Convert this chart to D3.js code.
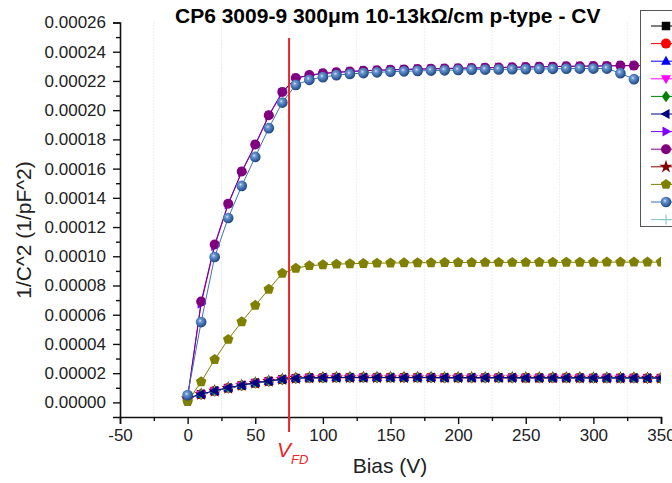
<!DOCTYPE html>
<html lang="en">
<head>
<meta charset="utf-8">
<title>CP6 CV</title>
<script src="https://cdn.jsdelivr.net/npm/d3@7"></script>
<style>
  body { margin: 0; background: #fff; }
  svg { display: block; font-family: "Liberation Sans", Arial, sans-serif; }
  .tick text { fill: #222; font-size: 17px; }
  .axis path, .axis line { stroke: #111; }
</style>
</head>
<body>
<div id="chart"></div>
<script>

// bias steps (V)
var bias = d3.range(0, 351, 10);

// series (1/pF^2)
var lowNavy = [0.0000030, 0.0000057, 0.0000080, 0.0000100, 0.0000118, 0.0000134, 0.0000146, 0.0000158, 0.0000166, 0.0000169,
  0.0000170, 0.0000171, 0.0000171, 0.0000171, 0.0000171, 0.0000171, 0.0000171, 0.0000171, 0.0000171, 0.0000170,
  0.0000170, 0.0000170, 0.0000170, 0.0000170, 0.0000170, 0.0000169, 0.0000169, 0.0000169, 0.0000169, 0.0000169,
  0.0000168, 0.0000168, 0.0000168, 0.0000168, 0.0000167, 0.0000167];
var lowOther = [0.0000025, 0.0000055, 0.0000078, 0.0000098, 0.0000116, 0.0000132, 0.0000145, 0.0000157, 0.0000165, 0.0000168,
  0.0000169, 0.0000170, 0.0000170, 0.0000170, 0.0000170, 0.0000170, 0.0000170, 0.0000170, 0.0000170, 0.0000169,
  0.0000169, 0.0000169, 0.0000169, 0.0000169, 0.0000169, 0.0000168, 0.0000168, 0.0000168, 0.0000168, 0.0000168,
  0.0000167, 0.0000167, 0.0000167, 0.0000167, 0.0000166, 0.0000166];
var violetVals = [0.0000035, 0.0000675, 0.0001070, 0.0001355, 0.0001575, 0.0001760, 0.0001960, 0.0002120, 0.0002218, 0.0002238,
  0.0002250, 0.0002258, 0.0002264, 0.0002269, 0.0002273, 0.0002276, 0.0002279, 0.0002281, 0.0002283, 0.0002285,
  0.0002287, 0.0002289, 0.0002290, 0.0002292, 0.0002294, 0.0002295, 0.0002297, 0.0002298, 0.0002300, 0.0002301,
  0.0002302, 0.0002303, 0.0002304, 0.0002305, 0.0002305, 0.0002306];
var purpleVals = [0.0000035, 0.0000690, 0.0001080, 0.0001360, 0.0001580, 0.0001765, 0.0001965, 0.0002125, 0.0002220, 0.0002240,
  0.0002252, 0.0002260, 0.0002265, 0.0002270, 0.0002273, 0.0002276, 0.0002279, 0.0002281, 0.0002283, 0.0002285,
  0.0002287, 0.0002289, 0.0002290, 0.0002292, 0.0002294, 0.0002295, 0.0002297, 0.0002298, 0.0002300, 0.0002301,
  0.0002302, 0.0002303, 0.0002305, 0.0002305, 0.0002306, 0.0002306];
var oliveVals = [0.0000005, 0.0000141, 0.0000294, 0.0000431, 0.0000552, 0.0000664, 0.0000774, 0.0000884, 0.0000918, 0.0000936,
  0.0000942, 0.0000946, 0.0000949, 0.0000951, 0.0000953, 0.0000954, 0.0000955, 0.0000956, 0.0000956, 0.0000957,
  0.0000957, 0.0000957, 0.0000958, 0.0000958, 0.0000958, 0.0000958, 0.0000959, 0.0000959, 0.0000959, 0.0000959,
  0.0000959, 0.0000960, 0.0000960, 0.0000960, 0.0000960, 0.0000960];
var sphereVals = [0.0000050, 0.0000550, 0.0000995, 0.0001262, 0.0001482, 0.0001680, 0.0001877, 0.0002052, 0.0002173, 0.0002208,
  0.0002226, 0.0002240, 0.0002248, 0.0002254, 0.0002259, 0.0002263, 0.0002266, 0.0002269, 0.0002271, 0.0002273,
  0.0002275, 0.0002277, 0.0002278, 0.0002279, 0.0002280, 0.0002281, 0.0002282, 0.0002283, 0.0002284, 0.0002285,
  0.0002285, 0.0002285, 0.0002253, 0.0002212, 0.0002250, 0.0002240];

var seriesColors = ["#000000", "#ff0000", "#0000ff", "#ff00ff", "#008000", "#000080", "#8000ff", "#800080", "#800000", "#808000", "#3f72b5", "#7fc4c4"];
var seriesMarkers = ["square", "circle", "up", "down", "diamond", "left", "right", "circle", "star", "pentagon", "sphere", "plus"];
var seriesValues = [lowOther, lowOther, lowOther, lowOther, lowOther, lowNavy, violetVals, purpleVals, lowOther, oliveVals, sphereVals, lowOther];
// overlapping series: the ones hidden in the picture are drawn first
var drawOrder = [0, 1, 8, 2, 3, 4, 11, 5, 6, 7, 9, 10];

var xTicks = d3.range(-50, 351, 50);
var yTicks = d3.range(0, 0.000261, 0.00002);

var W = 672, H = 483;
var pLeft = 120, pRight = 661, pTop = 22.5, pBottom = 417;

var x = d3.scaleLinear().domain([-50, 350]).range([pLeft, pRight]);
var y = d3.scaleLinear().domain([-0.00001, 0.00026]).range([pBottom, pTop]);

var svg = d3.select("#chart").append("svg")
  .attr("width", W)
  .attr("height", H);

var defs = svg.append("defs");
var grad = defs.append("radialGradient").attr("id", "ball")
  .attr("cx", "40%").attr("cy", "38%").attr("r", "60%");
grad.append("stop").attr("offset", "0%").attr("stop-color", "#d6e6f8");
grad.append("stop").attr("offset", "25%").attr("stop-color", "#6f9ad0");
grad.append("stop").attr("offset", "70%").attr("stop-color", "#3a6aaa");
grad.append("stop").attr("offset", "100%").attr("stop-color", "#24497f");

defs.append("clipPath").attr("id", "plotclip")
  .append("rect")
  .attr("x", pLeft).attr("y", pTop - 8)
  .attr("width", pRight - pLeft).attr("height", pBottom - pTop + 8);

// marker shapes
function polygon(pts) {
  return "M" + pts.map(function(p) { return p[0].toFixed(2) + "," + p[1].toFixed(2); }).join("L") + "Z";
}
function markerPath(type, r) {
  if (type == "square") { var s = r * 0.85; return polygon([[-s, -s], [s, -s], [s, s], [-s, s]]); }
  if (type == "circle") return d3.symbol(d3.symbolCircle, Math.PI * r * r)();
  if (type == "sphere") return d3.symbol(d3.symbolCircle, Math.PI * r * r * 1.15)();
  if (type == "up") return polygon([[0, -r * 1.1], [r, r * 0.7], [-r, r * 0.7]]);
  if (type == "down") return polygon([[0, r * 1.1], [r, -r * 0.7], [-r, -r * 0.7]]);
  if (type == "diamond") return polygon([[0, -r * 1.15], [r * 0.85, 0], [0, r * 1.15], [-r * 0.85, 0]]);
  if (type == "left") return polygon([[-r * 1.1, 0], [r * 0.7, -r], [r * 0.7, r]]);
  if (type == "right") return polygon([[r * 1.1, 0], [-r * 0.7, -r], [-r * 0.7, r]]);
  if (type == "star") return d3.symbol(d3.symbolStar, r * r * 2.2)();
  if (type == "pentagon") {
    return polygon(d3.range(5).map(function(i) {
      var a = -Math.PI / 2 + i * 2 * Math.PI / 5;
      return [Math.cos(a) * r * 1.1, Math.sin(a) * r * 1.1];
    }));
  }
  if (type == "plus") return "M" + (-r) + ",0H" + r + "M0," + (-r) + "V" + r;
  return "";
}
function markerFill(i) {
  if (seriesMarkers[i] == "sphere") return "url(#ball)";
  if (seriesMarkers[i] == "plus") return "none";
  return seriesColors[i];
}

// faint vertical grid at the minor ticks
svg.append("g").selectAll("line")
  .data(d3.range(-25, 350, 50))
  .enter().append("line")
  .attr("x1", function(d) { return x(d); })
  .attr("x2", function(d) { return x(d); })
  .attr("y1", pTop)
  .attr("y2", pBottom)
  .attr("stroke", "#dcdcdc")
  .attr("stroke-dasharray", "1,2");

// axes
svg.append("g").attr("class", "axis")
  .attr("transform", "translate(0," + pBottom + ")")
  .call(d3.axisBottom(x).tickValues(xTicks).tickSize(7).tickPadding(5).tickFormat(function(d) { return String(d); }));
svg.append("g").attr("class", "axis")
  .attr("transform", "translate(0," + pBottom + ")")
  .call(d3.axisBottom(x).tickValues(d3.range(-25, 350, 50)).tickSize(4).tickFormat(""))
  .select(".domain").remove();

svg.append("g").attr("class", "axis")
  .attr("transform", "translate(" + pLeft + ",0)")
  .call(d3.axisLeft(y).tickValues(yTicks).tickSize(7).tickPadding(7).tickFormat(d3.format(".5f")));
svg.append("g").attr("class", "axis")
  .attr("transform", "translate(" + pLeft + ",0)")
  .call(d3.axisLeft(y).tickValues(d3.range(0.00001, 0.00026, 0.00002)).tickSize(4).tickFormat(""))
  .select(".domain").remove();

svg.selectAll(".axis .domain").attr("stroke-width", 1.6);
svg.selectAll(".axis .tick line").attr("stroke-width", 1.4);

// data series
var plot = svg.append("g").attr("clip-path", "url(#plotclip)");
var line = d3.line()
  .x(function(d) { return x(d[0]); })
  .y(function(d) { return y(d[1]); });

drawOrder.forEach(function(i) {
  var vals = seriesValues[i];
  var pts = bias.map(function(b, j) { return [b, vals[j]]; });
  var g = plot.append("g");
  g.append("path")
    .datum(pts)
    .attr("fill", "none")
    .attr("stroke", seriesColors[i])
    .attr("stroke-width", 1)
    .attr("d", line);
  g.selectAll("path.mk")
    .data(pts)
    .enter().append("path")
    .attr("class", "mk")
    .attr("transform", function(d) { return "translate(" + x(d[0]) + "," + y(d[1]) + ")"; })
    .attr("d", markerPath(seriesMarkers[i], 5))
    .attr("fill", markerFill(i))
    .attr("stroke", seriesMarkers[i] == "plus" ? seriesColors[i] : "none")
    .attr("stroke-width", 1);
});

// full depletion line
svg.append("line")
  .attr("x1", x(75)).attr("x2", x(75))
  .attr("y1", 38).attr("y2", 432)
  .attr("stroke", "#e8262a")
  .attr("stroke-width", 2);

var vfd = svg.append("text")
  .attr("x", x(75) - 12)
  .attr("y", 457)
  .attr("fill", "#e8262a")
  .style("font-style", "italic")
  .style("font-size", "21px")
  .text("V");
vfd.append("tspan")
  .attr("dy", 7)
  .style("font-size", "13px")
  .text("FD");

// legend box (its labels lie beyond the right edge of the picture)
var legend = svg.append("g");
legend.append("rect")
  .attr("x", 640.5).attr("y", 10.5)
  .attr("width", 120).attr("height", 216)
  .attr("fill", "#fff")
  .attr("stroke", "#555")
  .attr("stroke-width", 1);
seriesColors.forEach(function(c, i) {
  var ly = 26 + i * 17.6;
  legend.append("line")
    .attr("x1", 651).attr("x2", 681)
    .attr("y1", ly).attr("y2", ly)
    .attr("stroke", c).attr("stroke-width", 1);
  legend.append("path")
    .attr("transform", "translate(666," + ly + ")")
    .attr("d", markerPath(seriesMarkers[i], 5))
    .attr("fill", markerFill(i))
    .attr("stroke", seriesMarkers[i] == "plus" ? c : "none");
});

// titles
svg.append("text")
  .attr("x", 175)
  .attr("y", 23)
  .style("font-size", "21px")
  .style("font-weight", "bold")
  .text("CP6 3009-9 300\u03bcm 10-13k\u03a9/cm p-type - CV");

svg.append("text")
  .attr("x", 390)
  .attr("y", 473)
  .attr("text-anchor", "middle")
  .style("font-size", "21px")
  .attr("fill", "#222")
  .text("Bias (V)");

svg.append("text")
  .attr("transform", "translate(31,230) rotate(-90)")
  .attr("text-anchor", "middle")
  .style("font-size", "21px")
  .attr("fill", "#222")
  .text("1/C^2 (1/pF^2)");

</script>
</body>
</html>
